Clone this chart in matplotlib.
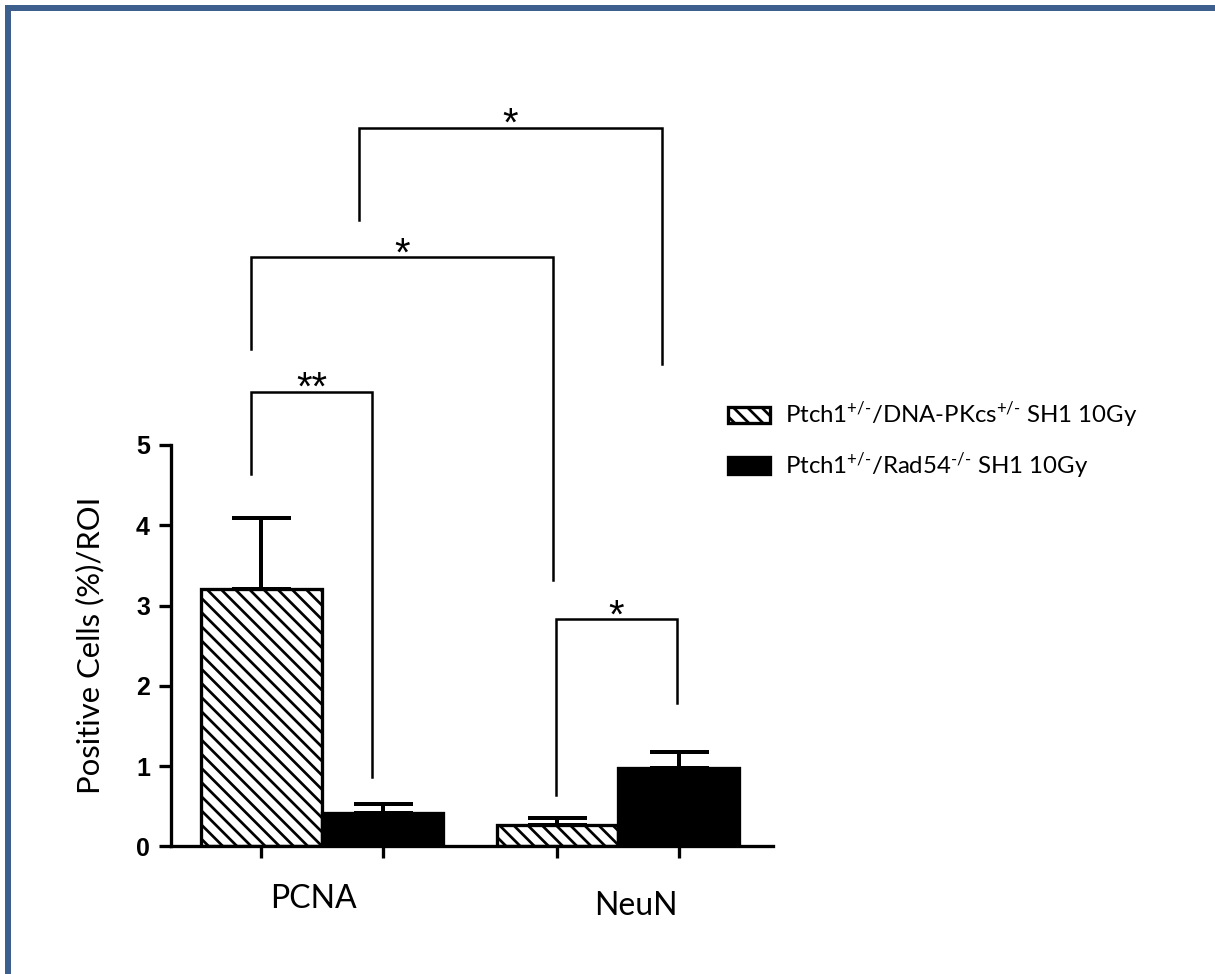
import numpy as np
import matplotlib
matplotlib.use('Agg')
import matplotlib.pyplot as plt
from matplotlib.patches import Rectangle

DPI = 85
W, H = 1215, 974


def px(v):
    # pixels -> points
    return v * 72 / DPI


plt.rcParams['font.family'] = ['Lato', 'DejaVu Sans']
plt.rcParams['mathtext.fontset'] = 'custom'
plt.rcParams['mathtext.rm'] = 'Lato'
plt.rcParams['mathtext.it'] = 'Lato:italic'
plt.rcParams['mathtext.bf'] = 'Lato:bold'
plt.rcParams['hatch.linewidth'] = px(2.7)

# ---- data ----
groups = ['PCNA', 'NeuN']
series_labels = [r'Ptch1$^{\text{+/-}}$/DNA-PKcs$^{\text{+/-}}$ SH1 10Gy',
                 r'Ptch1$^{\text{+/-}}$/Rad54$^{\text{-/-}}$ SH1 10Gy']
dnapkcs_mean = [3.20, 0.27]
dnapkcs_sem = [0.89, 0.08]
rad54_mean = [0.41, 0.98]
rad54_sem = [0.12, 0.19]
yticks = [0, 1, 2, 3, 4, 5]

# significance brackets: x left, x right, top, left leg end, right leg end, label
sig_x1 = [-0.240, -0.240, 0.125, 0.791]
sig_x2 = [0.169, 0.780, 1.149, 1.199]
sig_top = [5.66, 7.34, 8.95, 2.83]
sig_y1 = [4.64, 6.20, 7.80, 0.64]
sig_y2 = [0.86, 3.32, 6.01, 1.79]
sig_text = ['**', '*', '*', '*']

fig = plt.figure(figsize=(W / DPI, H / DPI), dpi=DPI)
ax = fig.add_axes([171 / W, 1 - 846.3 / H, (773 - 171) / W, (846.3 - 445) / H])

x = np.arange(len(groups))
w = 0.41
b1 = ax.bar(x - w / 2, dnapkcs_mean, w, facecolor='white', edgecolor='black',
            hatch='\\\\', linewidth=px(3.3), zorder=2)
b2 = ax.bar(x + w / 2, rad54_mean, w, facecolor='black', edgecolor='black',
            linewidth=px(3.3), zorder=2)
ax.errorbar(x - w / 2, dnapkcs_mean, yerr=[np.zeros(len(x)), dnapkcs_sem], fmt='none',
            ecolor='black', elinewidth=px(4), capsize=px(29.5), capthick=px(4), zorder=3)
ax.errorbar(x + w / 2, rad54_mean, yerr=[np.zeros(len(x)), rad54_sem], fmt='none',
            ecolor='black', elinewidth=px(4), capsize=px(29.5), capthick=px(4), zorder=1)

ax.set_xlim(-0.510, 1.524)
ax.set_ylim(0, 5)
ax.spines['top'].set_visible(False)
ax.spines['right'].set_visible(False)
for s in ['left', 'bottom']:
    ax.spines[s].set_linewidth(px(3.3))
ax.set_yticks(yticks, labels=[str(v) for v in yticks], fontfamily='Liberation Sans',
              fontweight='bold', fontsize=px(25))
ax.set_xticks(np.concatenate([x - w / 2, x + w / 2]), labels=[])
ax.tick_params(length=px(12), width=px(3.3), direction='out', pad=px(9))

# category names sit a bit off the tick centres in the original
ax.text(-0.029, -0.154, groups[0], transform=ax.get_xaxis_transform(),
        ha='center', va='baseline', fontsize=px(32))
ax.text(1.061, -0.171, groups[1], transform=ax.get_xaxis_transform(),
        ha='center', va='baseline', fontsize=px(32))

ax.set_ylabel('Positive Cells (%)/ROI', fontsize=px(31), labelpad=px(32))

for i in range(len(sig_text)):
    ax.plot([sig_x1[i], sig_x1[i], sig_x2[i], sig_x2[i]],
            [sig_y1[i], sig_top[i], sig_top[i], sig_y2[i]],
            color='black', lw=px(2.5), clip_on=False, solid_joinstyle='miter')
    ax.annotate(sig_text[i], xy=((sig_x1[i] + sig_x2[i]) / 2, sig_top[i]),
                xytext=(0, -px(8)), textcoords='offset points',
                ha='center', va='baseline', fontsize=px(40),
                fontfamily='Liberation Sans', annotation_clip=False)

ax.legend([b1, b2], series_labels, loc='upper left',
          bbox_to_anchor=(728 / W, 1 - 400 / H), bbox_transform=fig.transFigure,
          frameon=False, fontsize=px(24), handlelength=1.75, handleheight=0.71,
          handletextpad=0.62, labelspacing=0.85, borderpad=0, borderaxespad=0)

# blue frame on the top and left edges
blue = '#3c5f8e'
fig.add_artist(Rectangle((5 / W, 0), 6 / W, (H - 5) / H, transform=fig.transFigure,
                         facecolor=blue, edgecolor='none'))
fig.add_artist(Rectangle((5 / W, 1 - 11 / H), (W - 5) / W, 6 / H, transform=fig.transFigure,
                         facecolor=blue, edgecolor='none'))

fig.savefig('out.png', dpi=DPI)
